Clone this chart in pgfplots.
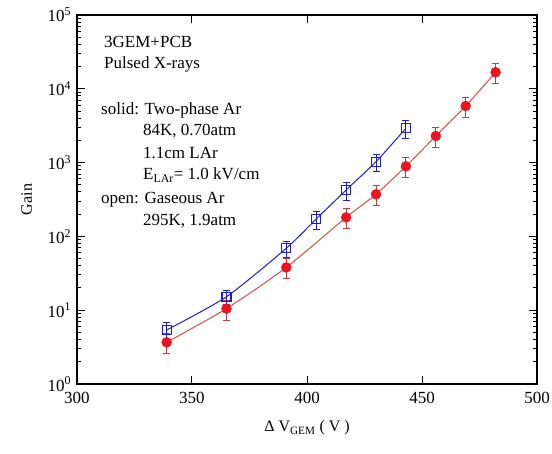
\documentclass[border=0pt]{standalone}
\usepackage{pgfplots}
\pgfplotsset{compat=1.18}
\usepackage{pgfplotstable}
\usepackage{fontspec}
\setmainfont{Liberation Serif}
\definecolor{myred}{RGB}{235,20,30}
\definecolor{mylred}{RGB}{205,80,70}
\definecolor{myered}{RGB}{195,60,60}
\definecolor{myblue}{RGB}{30,30,200}
\pgfplotstableread{
x y e
339 3.67 0.30
365 10.5 0.30
391 38 0.30
417 181 0.30
430 372 0.30
443 891 0.30
456 2291 0.30
469 5850 0.30
482 16750 0.30
}\reddata
\pgfplotstableread{
x y e
339 5.4 0.25
365 15.2 0.22
391 69 0.25
404 172 0.27
417 425 0.27
430 1028 0.27
443 2917 0.28
}\bluedata
\begin{document}
\fontsize{17}{20}\selectfont
\begin{tikzpicture}
\begin{axis}[
  width=460pt, height=369pt, scale only axis,
  xmin=300, xmax=500, ymin=1, ymax=1e5, ymode=log,
  xtick={300,350,...,500},
  ytick={1,10,100,1000,10000,100000},
  yticklabels={10\textsuperscript{0},10\textsuperscript{1},10\textsuperscript{2},10\textsuperscript{3},10\textsuperscript{4},10\textsuperscript{5}},
  /pgf/number format/assume math mode=true,
  /pgf/number format/1000 sep={},
  tick align=inside,
  major tick length=8pt, minor tick length=4pt,
  axis line style={line width=1.3pt},
  every tick/.style={line width=1pt, black},
  tick label style={font=\fontsize{17}{20}\selectfont},
  xticklabel style={yshift=-2pt},
  xlabel={Δ V\textsubscript{GEM} ( V )},
  ylabel={Gain},
  label style={font=\fontsize{16}{19}\selectfont},
  xlabel style={yshift=-6pt},
  ylabel style={yshift=4pt},
  clip=false,
]
\addplot[color=mylred, line width=1pt, smooth, tension=0.4] table[x=x,y=y] {\reddata};
\addplot[color=myblue, line width=1pt, smooth, tension=0.4] table[x=x,y=y] {\bluedata};
\addplot[only marks, mark=*, mark size=5pt, color=myred, mark options={fill=myred, draw=myred},
  error bars/.cd, y dir=both, y explicit relative,
  error bar style={line width=1pt, color=myered},
  error mark options={rotate=90, mark size=3.5pt, line width=1pt, color=myered}]
  table[x=x,y=y,y error=e] {\reddata};
\addplot[only marks, mark=square, mark size=4.5pt, color=myblue, mark options={line width=1.2pt, draw=myblue, fill=none},
  error bars/.cd, y dir=both, y explicit relative,
  error bar style={line width=1pt, color=myblue},
  error mark options={rotate=90, mark size=3.5pt, line width=1pt, color=myblue}]
  table[x=x,y=y,y error=e] {\bluedata};
\end{axis}
\begin{scope}[every node/.style={anchor=west, inner sep=0pt, font=\fontsize{17}{20}\selectfont}]
\node at (27pt,342pt) {3GEM+PCB};
\node at (27pt,320pt) {Pulsed X-rays};
\node at (24pt,274pt) {solid: Two-phase Ar};
\node at (66pt,253pt) {84K, 0.70atm};
\node at (66pt,231pt) {1.1cm LAr};
\node at (66pt,209pt) {E\textsubscript{LAr}= 1.0 kV/cm};
\node at (24pt,184pt) {open: Gaseous Ar};
\node at (66pt,163pt) {295K, 1.9atm};
\end{scope}
\pgfresetboundingbox
\useasboundingbox (-77pt,-70pt) rectangle (475pt,384pt);
\end{tikzpicture}
\end{document}
